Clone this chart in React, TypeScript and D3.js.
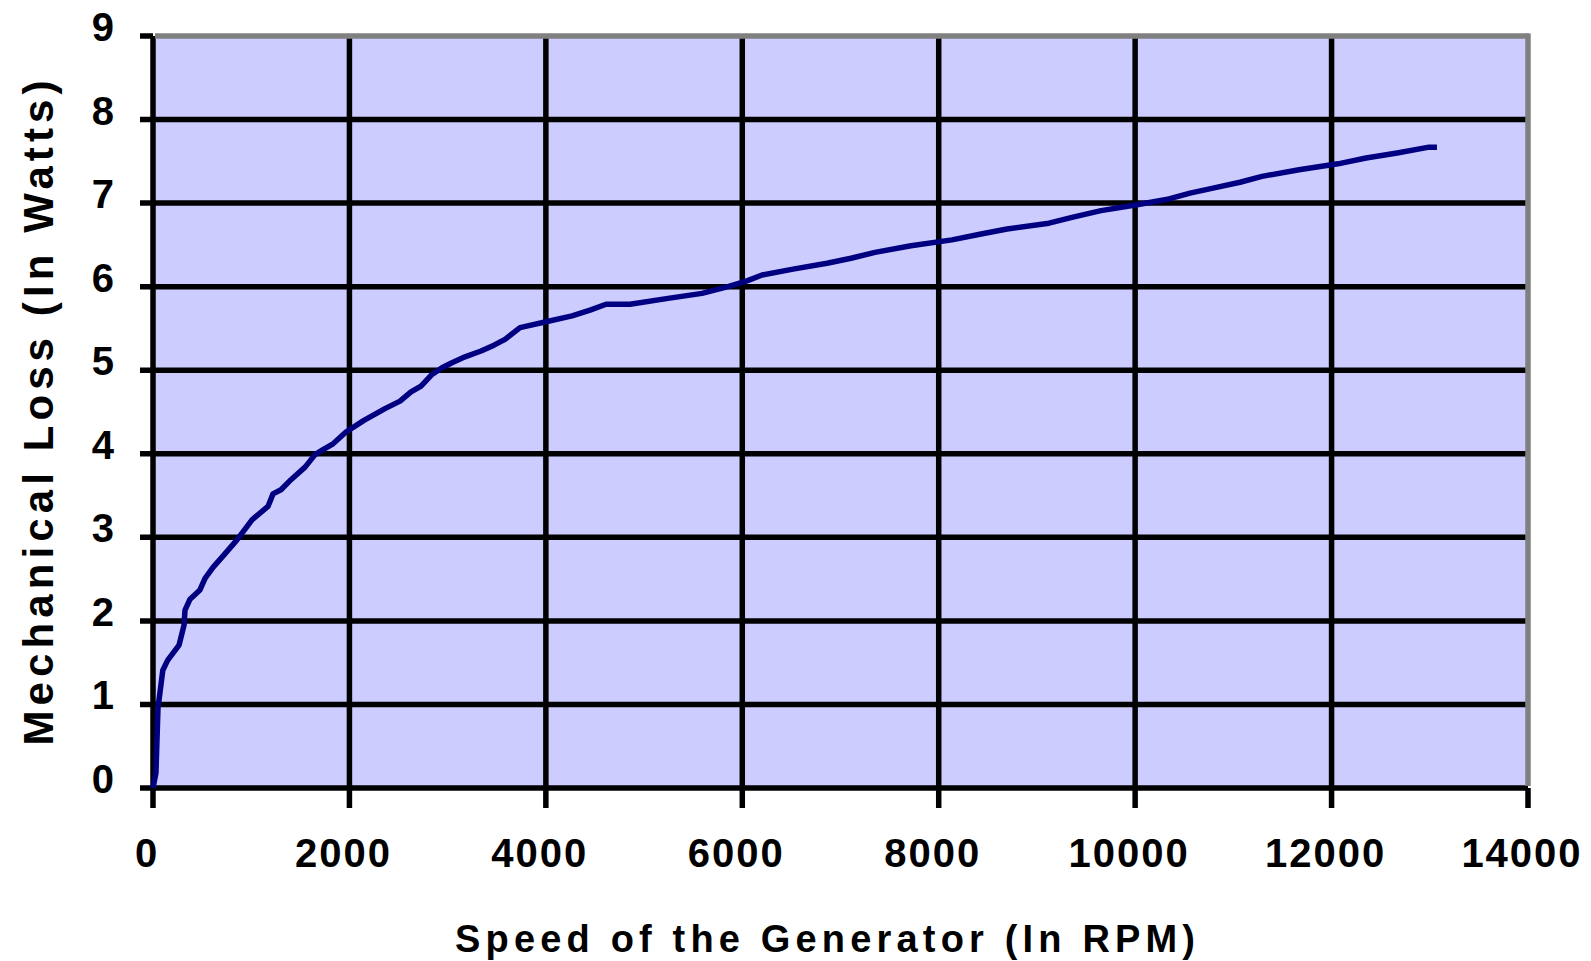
import React from "react";
import * as d3 from "d3";

// speed of the generator (rpm) vs mechanical loss (watts)
const speed = [
  0, 30, 51, 100, 150, 265, 316, 326, 377, 478, 530, 611, 723, 855, 1008, 1171,
  1222, 1303, 1405, 1548, 1650, 1731, 1833, 1965, 2148, 2362, 2515, 2627, 2729,
  2841, 2943, 3044, 3177, 3340, 3472, 3584, 3737, 4002, 4267, 4450, 4613, 4857,
  5244, 5590, 5855, 6048, 6201, 6517, 6863, 7107, 7351, 7718, 8135, 8431, 8696,
  9123, 9357, 9653, 10019, 10345, 10559, 10793, 11068, 11292, 11669, 12066,
  12351, 12667, 12992, 13073,
];
const loss = [
  0, 0.18, 0.96, 1.41, 1.53, 1.71, 1.95, 2.13, 2.26, 2.37, 2.51, 2.64, 2.79,
  2.97, 3.21, 3.37, 3.52, 3.57, 3.69, 3.84, 3.99, 4.05, 4.12, 4.26, 4.4, 4.54,
  4.63, 4.74, 4.81, 4.95, 5.03, 5.09, 5.16, 5.23, 5.3, 5.37, 5.51, 5.58, 5.65,
  5.72, 5.79, 5.79, 5.86, 5.92, 6.0, 6.07, 6.14, 6.21, 6.28, 6.34, 6.41, 6.49,
  6.56, 6.63, 6.69, 6.76, 6.83, 6.91, 6.98, 7.05, 7.12, 7.18, 7.25, 7.32, 7.4,
  7.47, 7.54, 7.6, 7.67, 7.67,
];
const xTicks = [0, 2000, 4000, 6000, 8000, 10000, 12000, 14000];
const yTicks = [0, 1, 2, 3, 4, 5, 6, 7, 8, 9];

const W = 1591;
const H = 961;
const font = "'Liberation Sans', Arial, sans-serif";

export default function App() {
  const x = d3.scaleLinear().domain([0, 14000]).range([153, 1528]);
  const y = d3.scaleLinear().domain([0, 9]).range([788, 36]);

  const pts: [number, number][] = speed.map((s, i) => [s, loss[i]]);
  const path = d3
    .line<[number, number]>()
    .x((d) => x(d[0]))
    .y((d) => y(d[1]))(pts);

  const [x0, x1] = x.range();
  const [y0, y1] = y.range();

  return (
    <svg
      width={W}
      height={H}
      style={{ position: "absolute", left: 0, top: 0, background: "#fff" }}
    >
      <rect x={x0} y={y1} width={x1 - x0} height={y0 - y1} fill="#ccccff" />

      {/* horizontal grid + left ticks */}
      {yTicks.map((t) =>
        t === 9 ? (
          <line key={t} x1={140} x2={x0} y1={y(t)} y2={y(t)} stroke="#000" strokeWidth={5.5} />
        ) : (
          <line key={t} x1={140} x2={x1} y1={y(t)} y2={y(t)} stroke="#000" strokeWidth={5.5} />
        )
      )}
      {/* vertical grid + bottom ticks */}
      {xTicks.map((t) =>
        t === 14000 ? (
          <line key={t} x1={x(t)} x2={x(t)} y1={y0} y2={808} stroke="#000" strokeWidth={5.5} />
        ) : (
          <line key={t} x1={x(t)} x2={x(t)} y1={y1} y2={808} stroke="#000" strokeWidth={5.5} />
        )
      )}

      {/* grey frame top and right */}
      <line x1={x0 + 2} x2={x1 + 1} y1={y1} y2={y1} stroke="#808080" strokeWidth={5.5} />
      <line x1={x1} x2={x1} y1={y1 - 2.5} y2={y0 - 2} stroke="#808080" strokeWidth={5.5} />

      <path
        d={path ?? ""}
        fill="none"
        stroke="#000080"
        strokeWidth={5.5}
        strokeLinejoin="round"
      />

      {yTicks.map((t) => (
        <text
          key={t}
          x={114}
          y={y(t) - 9}
          textAnchor="end"
          dominantBaseline="central"
          fontFamily={font}
          fontWeight="bold"
          fontSize={40}
          fill="#000"
        >
          {t}
        </text>
      ))}
      {xTicks.map((t) => (
        <text
          key={t}
          x={x(t) - 6}
          y={867}
          textAnchor="middle"
          fontFamily={font}
          fontWeight="bold"
          fontSize={40}
          letterSpacing={2}
          fill="#000"
        >
          {t}
        </text>
      ))}

      <text
        x={825}
        y={952}
        textAnchor="middle"
        fontFamily={font}
        fontWeight="bold"
        fontSize={38}
        textLength={740}
        lengthAdjust="spacing"
        fill="#000"
      >
        Speed of the Generator (In RPM)
      </text>
      <text
        transform={`translate(53, ${413}) rotate(-90)`}
        textAnchor="middle"
        fontFamily={font}
        fontWeight="bold"
        fontSize={42}
        textLength={665}
        lengthAdjust="spacing"
        fill="#000"
      >
        Mechanical Loss (In Watts)
      </text>
    </svg>
  );
}
